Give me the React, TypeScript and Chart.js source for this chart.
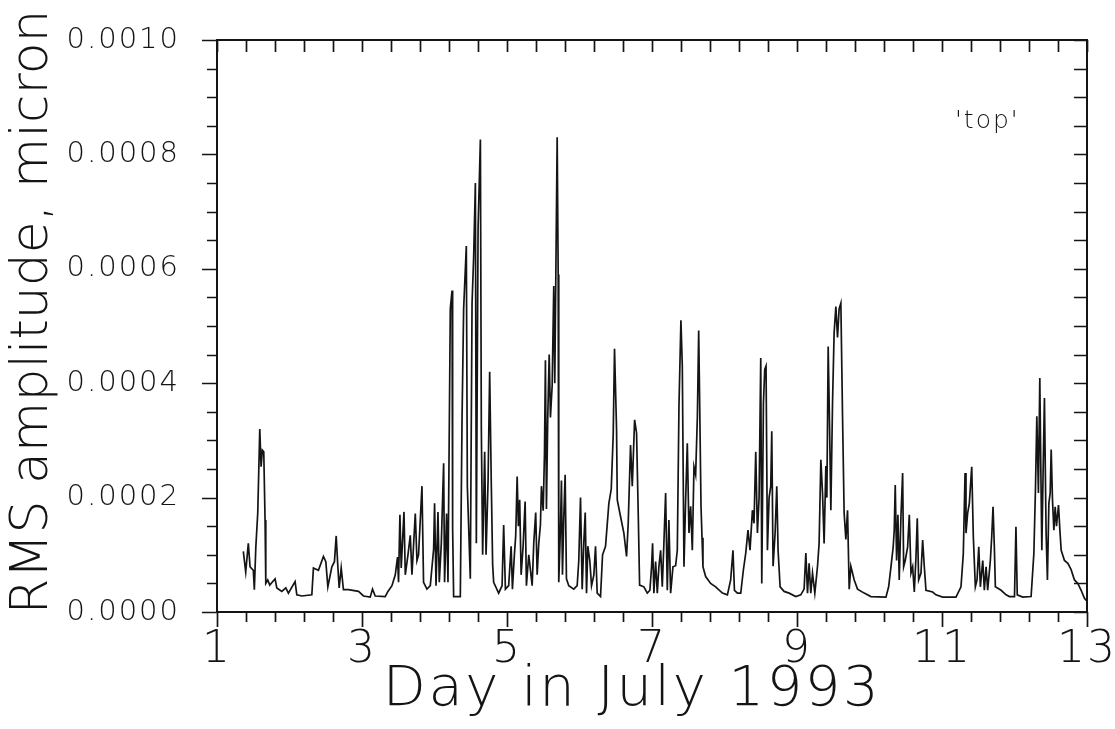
import { useEffect, useRef } from "react";
import { Chart, registerables } from "chart.js";

Chart.register(...registerables);

// Time of each sample, as day in July 1993
const DAYS = [
  1.363, 1.396, 1.432, 1.456, 1.501, 1.515, 1.535, 1.562, 1.59, 1.608, 1.626, 1.645, 1.663, 1.673, 1.7, 1.728,
  1.801, 1.825, 1.894, 1.949, 1.985, 2.077, 2.101, 2.17, 2.308, 2.33, 2.399, 2.468, 2.501, 2.529, 2.584, 2.62,
  2.644, 2.667, 2.685, 2.713, 2.744, 2.813, 2.952, 3.021, 3.113, 3.145, 3.182, 3.32, 3.358, 3.413, 3.459, 3.49,
  3.504, 3.523, 3.541, 3.579, 3.597, 3.634, 3.666, 3.689, 3.735, 3.758, 3.78, 3.827, 3.849, 3.896, 3.942, 3.988,
  4.001, 4.021, 4.048, 4.066, 4.094, 4.126, 4.139, 4.167, 4.186, 4.218, 4.242, 4.25, 4.264, 4.356, 4.38, 4.402,
  4.439, 4.453, 4.471, 4.494, 4.518, 4.54, 4.564, 4.577, 4.601, 4.633, 4.646, 4.664, 4.692, 4.711, 4.739, 4.761,
  4.784, 4.802, 4.816, 4.885, 4.932, 4.954, 4.978, 5.023, 5.057, 5.075, 5.102, 5.12, 5.14, 5.157, 5.175, 5.195,
  5.222, 5.25, 5.268, 5.3, 5.347, 5.369, 5.396, 5.416, 5.438, 5.461, 5.475, 5.499, 5.517, 5.53, 5.544, 5.562,
  5.582, 5.599, 5.623, 5.645, 5.659, 5.692, 5.706, 5.714, 5.738, 5.751, 5.765, 5.783, 5.802, 5.82, 5.852, 5.921,
  5.968, 5.99, 6.014, 6.037, 6.059, 6.079, 6.097, 6.115, 6.142, 6.166, 6.198, 6.221, 6.244, 6.29, 6.318, 6.359,
  6.405, 6.438, 6.465, 6.483, 6.511, 6.521, 6.566, 6.612, 6.649, 6.672, 6.704, 6.728, 6.76, 6.787, 6.811, 6.829,
  6.888, 6.935, 6.971, 6.994, 7.008, 7.026, 7.05, 7.073, 7.095, 7.119, 7.142, 7.164, 7.188, 7.211, 7.233, 7.257,
  7.289, 7.326, 7.349, 7.372, 7.399, 7.418, 7.441, 7.464, 7.487, 7.51, 7.533, 7.556, 7.579, 7.602, 7.626, 7.644,
  7.657, 7.676, 7.69, 7.703, 7.74, 7.809, 7.878, 7.971, 8.04, 8.085, 8.117, 8.137, 8.178, 8.224, 8.26, 8.293,
  8.324, 8.352, 8.385, 8.407, 8.431, 8.454, 8.477, 8.5, 8.514, 8.537, 8.555, 8.573, 8.592, 8.615, 8.638, 8.652,
  8.67, 8.698, 8.721, 8.739, 8.767, 8.822, 8.891, 8.983, 9.052, 9.098, 9.122, 9.145, 9.167, 9.19, 9.214, 9.246,
  9.283, 9.305, 9.329, 9.352, 9.374, 9.398, 9.412, 9.43, 9.449, 9.467, 9.49, 9.512, 9.536, 9.559, 9.581, 9.605,
  9.628, 9.65, 9.674, 9.697, 9.72, 9.743, 9.789, 9.835, 9.927, 10.019, 10.227, 10.264, 10.296, 10.327, 10.341, 10.355,
  10.374, 10.392, 10.41, 10.434, 10.457, 10.471, 10.493, 10.526, 10.549, 10.572, 10.595, 10.618, 10.641, 10.659, 10.678, 10.71,
  10.733, 10.756, 10.779, 10.871, 10.917, 11.01, 11.193, 11.262, 11.294, 11.318, 11.331, 11.354, 11.377, 11.41, 11.432, 11.46,
  11.483, 11.507, 11.529, 11.562, 11.584, 11.608, 11.63, 11.667, 11.686, 11.704, 11.722, 11.736, 11.815, 11.884, 11.93, 12.0,
  12.02, 12.038, 12.114, 12.229, 12.267, 12.289, 12.308, 12.33, 12.349, 12.363, 12.377, 12.395, 12.413, 12.436, 12.454, 12.474,
  12.492, 12.506, 12.524, 12.543, 12.561, 12.579, 12.607, 12.626, 12.644, 12.689, 12.736, 12.781, 12.827, 12.874, 12.919, 12.965,
  12.99,
];

// RMS amplitude of each sample, micron
const RMS = [
  0.000106, 0.00007, 0.00012, 0.000079, 0.000073, 0.000039, 0.000112, 0.000173, 0.00032, 0.000254, 0.000283, 0.00028, 0.000161, 0.00005, 0.000056, 0.000047,
  0.000058, 0.000042, 0.000036, 0.000042, 0.000033, 0.000053, 0.00003, 0.000028, 0.00003, 0.000077, 0.000073, 0.000097, 0.000088, 0.000044, 0.000079, 0.000088,
  0.000133, 0.000079, 0.000042, 0.000077, 0.000039, 0.000039, 0.000036, 0.000028, 0.000026, 0.00004, 0.000028, 0.000027, 0.000036, 0.000046, 0.000065, 0.000096,
  0.000052, 0.00017, 0.000077, 0.000175, 0.000065, 0.0001, 0.000134, 0.000065, 0.000172, 0.00009, 0.0001, 0.00022, 0.000052, 0.00004, 0.000046, 0.00011,
  0.00019, 0.000046, 0.000175, 0.000052, 0.00012, 0.00026, 0.000052, 0.000172, 0.000052, 0.00053, 0.000562, 0.000147, 0.000027, 0.000027, 0.00034, 0.00053,
  0.00064, 0.00022, 0.00015, 0.000058, 0.00054, 0.00062, 0.00075, 0.00012, 0.00067, 0.000826, 0.00032, 0.0001, 0.00028, 0.0001, 0.00023, 0.00042,
  0.00022, 0.000083, 0.000052, 0.000033, 0.000046, 0.000152, 0.00004, 0.000046, 0.000115, 0.00004, 0.0001, 0.000133, 0.000237, 0.00015, 0.000196, 0.000065,
  0.000115, 0.000193, 0.000046, 0.0001, 0.000046, 0.00012, 0.000174, 0.000065, 0.00012, 0.000152, 0.00022, 0.000177, 0.000277, 0.00044, 0.00018, 0.00034,
  0.00045, 0.00034, 0.000396, 0.00057, 0.0004, 0.00083, 0.00059, 0.000052, 0.00015, 0.00023, 0.000065, 0.000165, 0.00024, 0.000058, 0.000046, 0.00004,
  0.000046, 0.00009, 0.0002, 0.00004, 0.00012, 0.000174, 0.000033, 0.000115, 0.00009, 0.000046, 0.000065, 0.000115, 0.000033, 0.000027, 0.0001, 0.000115,
  0.00019, 0.000215, 0.00031, 0.00046, 0.00032, 0.000196, 0.000167, 0.000138, 0.000097, 0.000155, 0.000292, 0.00022, 0.000336, 0.000313, 0.000167, 0.000047,
  0.000044, 0.000033, 0.000038, 0.000079, 0.00012, 0.000033, 0.000088, 0.000033, 0.000079, 0.000108, 0.000044, 0.00012, 0.000208, 0.000038, 0.000161, 0.000033,
  0.000079, 0.000081, 0.000108, 0.00036, 0.00051, 0.00043, 0.000079, 0.000196, 0.000295, 0.000138, 0.000185, 0.000108, 0.000254, 0.00024, 0.000342, 0.000492,
  0.00037, 0.000185, 0.00013, 0.000079, 0.000062, 0.00005, 0.000044, 0.000033, 0.00003, 0.000056, 0.000108, 0.000038, 0.000033, 0.000033, 0.000073, 0.000103,
  0.000143, 0.000108, 0.000178, 0.000155, 0.00028, 0.000138, 0.0002, 0.000444, 0.00005, 0.000365, 0.000424, 0.00043, 0.000108, 0.0002, 0.00022, 0.000316,
  0.00008, 0.000138, 0.00022, 0.000108, 0.000044, 0.000036, 0.000033, 0.000027, 0.00003, 0.00004, 0.000103, 0.000033, 0.000085, 0.000033, 0.000068, 0.000033,
  0.00008, 0.00012, 0.000266, 0.000208, 0.00012, 0.000255, 0.0002, 0.000464, 0.000325, 0.000178, 0.000365, 0.000488, 0.000534, 0.00048, 0.00053, 0.00054,
  0.000343, 0.000173, 0.000127, 0.000178, 0.00004, 0.00008, 0.000056, 0.00004, 0.000033, 0.000027, 0.000026, 0.000044, 0.000079, 0.000114, 0.000143, 0.000222,
  0.00009, 0.00017, 0.000056, 0.000168, 0.000243, 0.000079, 0.00009, 0.000114, 0.00017, 0.000068, 0.000079, 0.000035, 0.000096, 0.000164, 0.000056, 0.000068,
  0.000126, 0.000079, 0.000038, 0.000035, 0.00003, 0.000026, 0.000026, 0.000044, 0.000102, 0.000243, 0.000138, 0.000173, 0.00019, 0.000254, 0.000132, 0.000044,
  0.000056, 0.000114, 0.000044, 0.00009, 0.000038, 0.000079, 0.000038, 0.00009, 0.000132, 0.000184, 0.000114, 0.000044, 0.000038, 0.00003, 0.000027, 0.000027,
  0.000149, 0.00003, 0.000026, 0.000027, 0.000102, 0.000214, 0.000342, 0.000208, 0.000409, 0.000254, 0.000108, 0.000248, 0.000374, 0.000138, 0.000056, 0.00019,
  0.000208, 0.000284, 0.000196, 0.000143, 0.000184, 0.00015, 0.000187, 0.000143, 0.000108, 0.00009, 0.000085, 0.000074, 0.000056, 0.00005, 0.000038, 0.000024,
  0.00002,
];

const X_TICKS = [1, 3, 5, 7, 9, 11, 13];
const Y_TICKS = [0, 0.0002, 0.0004, 0.0006, 0.0008, 0.001];
const X_MINOR_STEP = 0.4;
const Y_MINOR_STEP = 0.00005;

const SERIES_LABEL = "'top'";
const X_TITLE = "Day in July 1993";
const Y_TITLE = "RMS amplitude, micron";

const FONT = "'DejaVu Sans', 'Open Sans', sans-serif";
const WEIGHT = "200";
const INK = "#141414";

// Boxed frame, gnuplot-style tick marks, axis titles and the series key
const framePlugin = {
  id: "frameTicks",
  beforeDraw(chart: any) {
    chart.ctx.letterSpacing = "2px";
  },
  afterDatasetsDraw(chart: any) {
    const { ctx, chartArea, scales } = chart;
    const { left, right, top, bottom } = chartArea;
    const xs = scales.x;
    const ys = scales.y;
    ctx.save();
    ctx.strokeStyle = INK;
    ctx.lineWidth = 2;
    ctx.strokeRect(left, top, right - left, bottom - top);

    ctx.lineWidth = 1.7;
    ctx.beginPath();
    const nx = Math.round((xs.max - xs.min) / X_MINOR_STEP);
    for (let i = 0; i <= nx; i++) {
      const v = xs.min + i * X_MINOR_STEP;
      const px = Math.round(xs.getPixelForValue(v)) + 0.5;
      const major = X_TICKS.some((t) => Math.abs(t - v) < 1e-6);
      ctx.moveTo(px, bottom);
      ctx.lineTo(px, bottom + (major ? 15 : 10));
      ctx.moveTo(px, top);
      ctx.lineTo(px, top + 12);
    }
    const ny = Math.round((ys.max - ys.min) / Y_MINOR_STEP);
    for (let i = 0; i <= ny; i++) {
      const v = ys.min + i * Y_MINOR_STEP;
      const py = Math.round(ys.getPixelForValue(v)) + 0.5;
      const major = Y_TICKS.some((t) => Math.abs(t - v) < 1e-9);
      ctx.moveTo(left, py);
      ctx.lineTo(left - (major ? 15 : 10), py);
      ctx.moveTo(right, py);
      ctx.lineTo(right - 13, py);
    }
    ctx.stroke();

    ctx.fillStyle = INK;
    ctx.textBaseline = "alphabetic";

    // series key, upper right inside the frame
    ctx.font = `${WEIGHT} 25px ${FONT}`;
    ctx.textAlign = "left";
    ctx.fillText(SERIES_LABEL, right - 132, top + 88);

    // x axis title
    ctx.font = `${WEIGHT} 56px ${FONT}`;
    ctx.letterSpacing = "2.5px";
    ctx.textAlign = "center";
    ctx.fillText(X_TITLE, left + 415, bottom + 93);

    // y axis title, reading upwards
    ctx.font = `${WEIGHT} 52px ${FONT}`;
    ctx.letterSpacing = "0px";
    ctx.translate(47, top + 272);
    ctx.rotate(-Math.PI / 2);
    ctx.fillText(Y_TITLE, 0, 0);
    ctx.restore();
  },
};

export default function App() {
  const canvasRef = useRef<HTMLCanvasElement | null>(null);

  useEffect(() => {
    const canvas = canvasRef.current;
    if (!canvas) return;
    const points = DAYS.map((d, i) => ({ x: d, y: RMS[i] }));
    const chart = new Chart(canvas, {
      type: "line",
      data: {
        datasets: [
          {
            label: SERIES_LABEL,
            data: points,
            borderColor: INK,
            borderWidth: 1.7,
            pointRadius: 0,
            tension: 0,
            fill: false,
          },
        ],
      },
      options: {
        animation: false,
        responsive: false,
        layout: { padding: { top: 40, right: 28, left: 0, bottom: 0 } },
        plugins: { legend: { display: false }, tooltip: { enabled: false } },
        scales: {
          x: {
            type: "linear",
            min: 1,
            max: 13,
            grid: { display: false, drawTicks: false },
            border: { display: false },
            afterBuildTicks: (s: any) => {
              s.ticks = X_TICKS.map((v) => ({ value: v }));
            },
            afterFit: (s: any) => {
              s.height = 117;
              s.paddingLeft = 0;
              s.paddingRight = 0;
            },
            ticks: {
              padding: 12,
              color: INK,
              maxRotation: 0,
              autoSkip: false,
              font: { family: FONT, size: 44, weight: WEIGHT as any },
              callback: (v: any) => String(v),
            },
            title: { display: false, text: X_TITLE },
          },
          y: {
            type: "linear",
            min: 0,
            max: 0.001,
            grid: { display: false, drawTicks: false },
            border: { display: false },
            afterBuildTicks: (s: any) => {
              s.ticks = Y_TICKS.map((v) => ({ value: v }));
            },
            afterFit: (s: any) => {
              s.width = 217;
              s.paddingTop = 0;
              s.paddingBottom = 0;
            },
            ticks: {
              padding: 37,
              color: INK,
              autoSkip: false,
              font: { family: FONT, size: 29, weight: WEIGHT as any },
              callback: (v: any) => Number(v).toFixed(4),
            },
            title: { display: false, text: Y_TITLE },
          },
        },
      },
      plugins: [framePlugin],
    });
    return () => chart.destroy();
  }, []);

  return (
    <canvas
      ref={canvasRef}
      width={1115}
      height={729}
      style={{ position: "absolute", left: 0, top: 0, display: "block", background: "#fff" }}
    />
  );
}
